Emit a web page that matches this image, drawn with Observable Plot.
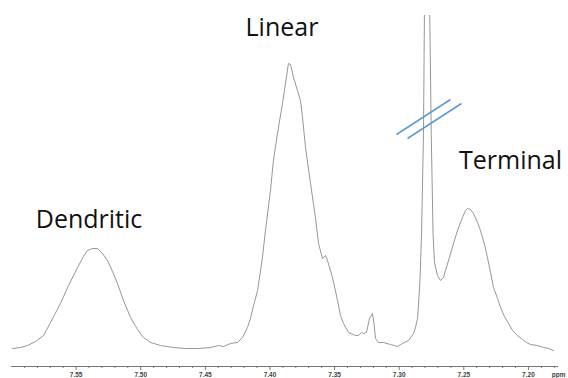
<!DOCTYPE html>
<html>
<head>
<meta charset="utf-8">
<script src="https://cdn.jsdelivr.net/npm/d3@7"></script>
<script src="https://cdn.jsdelivr.net/npm/@observablehq/plot@0.6"></script>
<style>
  html, body { margin: 0; padding: 0; background: #fff; }
  #chart svg { display: block; }
</style>
</head>
<body>
<div id="chart"></div>
<script>
// Chemical shift (ppm) and signal intensity (arbitrary units)
const ppm = [
  7.5992, 7.5930, 7.5876, 7.5814, 7.5752, 7.5698, 7.5621, 7.5559, 7.5489, 7.5443,
  7.5412, 7.5373, 7.5335, 7.5296, 7.5257, 7.5218, 7.5180, 7.5133, 7.5079, 7.5025,
  7.4979, 7.4924, 7.4847, 7.4746, 7.4654, 7.4553, 7.4460, 7.4398, 7.4360, 7.4305,
  7.4251, 7.4213, 7.4174, 7.4151, 7.4127, 7.4096, 7.4058, 7.4035, 7.3996, 7.3973,
  7.3942, 7.3903, 7.3880, 7.3857, 7.3841, 7.3818, 7.3787, 7.3764, 7.3748, 7.3725,
  7.3686, 7.3648, 7.3624, 7.3593, 7.3570, 7.3555, 7.3516, 7.3477, 7.3454, 7.3431,
  7.3392, 7.3338, 7.3315, 7.3292, 7.3276, 7.3253, 7.3230, 7.3207, 7.3195, 7.3183,
  7.3160, 7.3121, 7.3067, 7.3013, 7.2974, 7.2928, 7.2889, 7.2874, 7.2858, 7.2851,
  7.2839, 7.2827, 7.2812, 7.2789, 7.2752, 7.2738, 7.2727, 7.2704, 7.2680, 7.2657,
  7.2642, 7.2611, 7.2580, 7.2549, 7.2510, 7.2487, 7.2471, 7.2448, 7.2425, 7.2394,
  7.2371, 7.2340, 7.2317, 7.2293, 7.2270, 7.2239, 7.2216, 7.2185, 7.2154, 7.2123,
  7.2085, 7.2046, 7.2015, 7.1984, 7.1930, 7.1883, 7.1845, 7.1806
];
const intensity = [
  2, 3, 5, 9, 15, 28, 47, 65, 83, 94,
  100, 102, 102, 97, 90, 79, 67, 50, 33, 21,
  13, 8, 5, 3, 2, 2, 3, 5, 4, 7,
  8, 13, 23, 32, 45, 60, 93, 120, 160, 190,
  217, 247, 267, 287, 286, 273, 260, 250, 233, 203,
  167, 133, 107, 92, 95, 90, 73, 50, 35, 27,
  18, 15, 15, 18, 17, 18, 32, 37, 27, 12,
  8, 8, 6, 4, 7, 10, 17, 23, 32, 45,
  70, 117, 217, 597, 217, 117, 88, 75, 70, 73,
  80, 93, 107, 120, 133, 140, 142, 141, 137, 128,
  120, 106, 93, 78, 63, 52, 43, 34, 27, 20,
  15, 11, 8, 6, 5, 3, 2, 0
];

// Axis ticks
const majorTicks = [7.55, 7.50, 7.45, 7.40, 7.35, 7.30, 7.25, 7.20];
const minorTicks = [
  7.59, 7.58, 7.57, 7.56, 7.54, 7.53, 7.52, 7.51, 7.49, 7.48, 7.47, 7.46,
  7.44, 7.43, 7.42, 7.41, 7.39, 7.38, 7.37, 7.36, 7.34, 7.33, 7.32, 7.31,
  7.29, 7.28, 7.27, 7.26, 7.24, 7.23, 7.22, 7.21, 7.19, 7.18
];
const xDomain = [7.600, 7.1775];
const yDomain = [-16, 335];

// Peak labels (anchored in data coordinates)
const labelNames = ["Dendritic", "Linear", "Terminal"];
const labelPpm = [7.540, 7.3907, 7.2139];
const labelIntensity = [131, 323, 190];

// Axis-break marker (two parallel strokes across the clipped peak)
const breakPpm1 = [7.3021, 7.2936];
const breakInt1 = [216, 212];
const breakPpm2 = [7.2603, 7.2518];
const breakInt2 = [251, 247];

const spectrum = ppm.map((p, i) => ({ppm: p, intensity: intensity[i]}));

const chart = Plot.plot({
  width: 568,
  height: 378,
  marginLeft: 11,
  marginRight: 11,
  marginTop: 15,
  marginBottom: 12,
  style: {fontFamily: "'Liberation Sans', Arial, sans-serif", fontSize: "6.5px", fontWeight: "bold", color: "#444", background: "#fff"},
  x: {domain: xDomain, axis: null},
  y: {domain: yDomain, axis: null},
  marks: [
    Plot.frame({anchor: "bottom", stroke: "#777"}),
    Plot.axisX(minorTicks, {tickSize: 2, tickFormat: () => "", label: null, stroke: "#777"}),
    Plot.axisX(majorTicks, {
      tickSize: 4, tickPadding: 2, tickFormat: d => d.toFixed(2), stroke: "#777", fill: "#444",
      label: "ppm", labelAnchor: "right", labelArrow: "none", labelOffset: 10
    }),
    Plot.line(spectrum, {x: "ppm", y: "intensity", stroke: "#8a8a8a", strokeWidth: 0.9, clip: true}),
    Plot.link(breakPpm1, {
      x1: (d, i) => breakPpm1[i], y1: (d, i) => breakInt1[i],
      x2: (d, i) => breakPpm2[i], y2: (d, i) => breakInt2[i],
      stroke: "#5B9BD5", strokeWidth: 1.5
    }),
    Plot.text(labelNames, {
      x: (d, i) => labelPpm[i], y: (d, i) => labelIntensity[i], text: d => d,
      fontSize: 25, fontFamily: "'Open Sans', sans-serif", fontWeight: "normal", fill: "#111",
      textAnchor: "middle", lineAnchor: "middle"
    })
  ]
});
document.getElementById("chart").appendChild(chart);
</script>
</body>
</html>
